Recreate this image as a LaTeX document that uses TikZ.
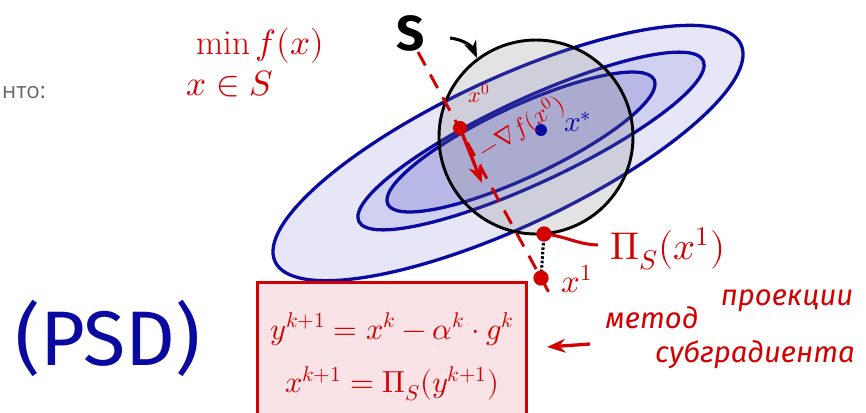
\documentclass[tikz,border=0pt]{standalone}
\usepackage{amsmath}
\usepackage{fontspec}
\usepackage{unicode-math}
\setmathfont{Latin Modern Math}
\newfontfamily\handsans{Fira Sans}
\newfontfamily\grayfont{Open Sans}
\usepackage{tikz}
\usetikzlibrary{arrows.meta}
\definecolor{hred}{RGB}{210,0,0}
\definecolor{hblue}{RGB}{10,10,160}
\definecolor{lvlA}{RGB}{230,230,246}
\definecolor{lvlB}{RGB}{208,208,240}
\definecolor{lvlC}{RGB}{184,184,230}
\definecolor{boxpink}{RGB}{250,227,230}
\newcommand{\fs}[1]{\fontsize{#1}{1.15\dimexpr #1pt\relax}\selectfont}

\begin{document}
\begin{tikzpicture}[>=Stealth,x=0.03cm,y=-0.03cm,
  level/.style={draw=hblue,line width=2.8pt},
  redtext/.style={text=hred,inner sep=1pt},
  reddot/.style={circle,fill=hred,inner sep=0pt,minimum size=#1},
  reddot/.default=12pt,
  ruhand/.style={redtext,font=\handsans\fs{25}\itshape}]
  \useasboundingbox (0,0) rectangle (866,412);
  \clip (0,0) rectangle (866,412);
  % level sets of f: three nested ellipses
  \foreach \cx/\cy/\a/\b/\col in {508/153/257/74/lvlA, 531/141/190/42/lvlB, 521/142/147/35.5/lvlC}
    \draw[level,fill=\col,shift={(\cx,\cy)},rotate=25] (0,0) ellipse [x radius=\a,y radius=\b];
  % feasible set S
  \draw[black,line width=2.5pt,fill=gray,fill opacity=0.22] (536,137) circle (97);
  \coordinate (c0) at (418,52);
  \coordinate (x0) at (460,128);
  \coordinate (x1) at (541,278);
  \coordinate (c1) at (553,300);
  \coordinate (pi) at (544,234);
  \coordinate (xs) at (541,130);
  % gradient step and projection
  \draw[hred,line width=2.5pt,dash pattern=on 13pt off 9pt] (c0) -- (x1) -- (c1);
  \draw[->,hred,line width=2.8pt] (x0) -- (482,183);
  \draw[black,line width=2.6pt,dash pattern=on 2.2pt off 1.6pt] (pi) -- (x1);
  \draw[hred,line width=2.6pt] (pi) to[out=-5,in=178] (598,245);
  \node[reddot] at (x0) {};
  \node[reddot=13pt] at (pi) {};
  \node[reddot=13pt] at (x1) {};
  \fill[hblue] (xs) circle (6);
  % labels
  \node[font=\handsans\fs{42}\bfseries] (lS) at (411,33) {S};
  \coordinate (sa) at (450,38);
  \coordinate (sb) at (477,58);
  \draw[->,black,line width=2.6pt] (sa) to[bend left=30] (sb);
  \node[redtext,font=\fs{30}] (minf) at (260,46) {$\min f(x)$};
  \node[redtext,font=\fs{30}] (xinS) at (230,84) {$x\in S$};
  \node[redtext,font=\fs{19}] (lx0) at (479,93) {$x^0$};
  \node[redtext,inner sep=0pt,font=\fs{21},rotate=32] (lgrad) at (522,128) {$-\nabla f(x^0)$};
  \node[text=hblue,inner sep=1pt,font=\fs{25}] (lxs) at (578,122) {$x^*$};
  \node[redtext,font=\fs{33}] (lpi) at (668,249) {$\Pi_S(x^1)$};
  \node[redtext,font=\fs{28}] (lx1) at (577,279) {$x^1$};
  % update rule
  \node[draw=hred,fill=boxpink,line width=2.6pt,minimum width=230pt,minimum height=128pt,
    text=hred,font=\fs{26},align=center] (update) at (392,357)
    {$y^{k+1}=x^k-\alpha^k\cdot g^k$\\[16pt] $x^{k+1}=\Pi_S(y^{k+1})$};
  \node[ruhand] (met) at (652,318) {метод};
  \node[ruhand] (proj) at (787,301) {проекции};
  \node[ruhand] (subgr) at (755,355) {субградиента};
  \coordinate (at) at (590,344);
  \coordinate (ah) at (547,347);
  \draw[->,hred,line width=2.8pt] (at) -- (ah);
  \node[text=hblue,font=\handsans\fs{66}] (psd) at (108,338) {(PSD)};
  \node[anchor=west,text=black!60,font=\grayfont\fs{19}] (cut) at (-2,93) {нто:};
\end{tikzpicture}
\end{document}
